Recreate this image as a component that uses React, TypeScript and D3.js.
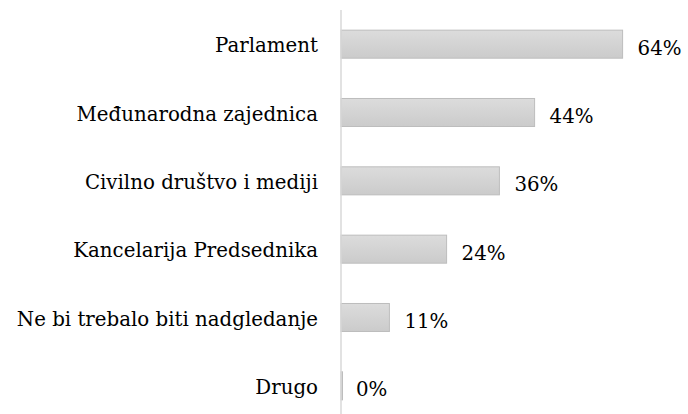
import React from "react";
import * as d3 from "d3";

const categories = [
  "Parlament",
  "Međunarodna zajednica",
  "Civilno društvo i mediji",
  "Kancelarija Predsednika",
  "Ne bi trebalo biti nadgledanje",
  "Drugo",
];
const values = [64, 44, 36, 24, 11, 0];
const valueLabels = ["64%", "44%", "36%", "24%", "11%", "0%"];

const W = 688;
const H = 414;
const FONT = "'DejaVu Serif', serif";
const FS = 19.8;

export default function App() {
  const x = d3.scaleLinear().domain([0, 70]).range([341, 341 + 70 * 4.4]);
  const y = d3
    .scaleBand<string>()
    .domain(categories)
    .range([10, 420])
    .paddingInner(0.59)
    .paddingOuter(0.295);
  const bh = y.bandwidth();
  return (
    <svg
      width={W}
      height={H}
      style={{ position: "absolute", left: 0, top: 0, background: "#fff" }}
    >
      <defs>
        <linearGradient id="barGrad" x1="0" y1="0" x2="0" y2="1">
          <stop offset="0" stopColor="#dcdcdc" />
          <stop offset="1" stopColor="#cbcbcb" />
        </linearGradient>
      </defs>
      {categories.map((c, i) => {
        const yy = y(c)!;
        const xe = x(values[i]);
        const mid = yy + bh / 2;
        return (
          <g key={c}>
            <rect
              x={x(0)}
              y={yy}
              width={Math.max(xe - x(0), 1.5)}
              height={bh}
              fill="url(#barGrad)"
              stroke="#bdbdbd"
              strokeWidth={1}
            />
            <text
              x={318}
              y={mid + 8}
              textAnchor="end"
              fontFamily={FONT}
              fontSize={FS}
              fill="#000"
            >
              {c}
            </text>
            <text
              x={Math.max(xe, x(0)) + 15}
              y={mid + 10.5}
              fontFamily={FONT}
              fontSize={FS}
              fill="#000"
            >
              {valueLabels[i]}
            </text>
          </g>
        );
      })}
      <line x1={x(0)} x2={x(0)} y1={10} y2={H} stroke="#d9d9d9" strokeWidth={1.5} />
    </svg>
  );
}
